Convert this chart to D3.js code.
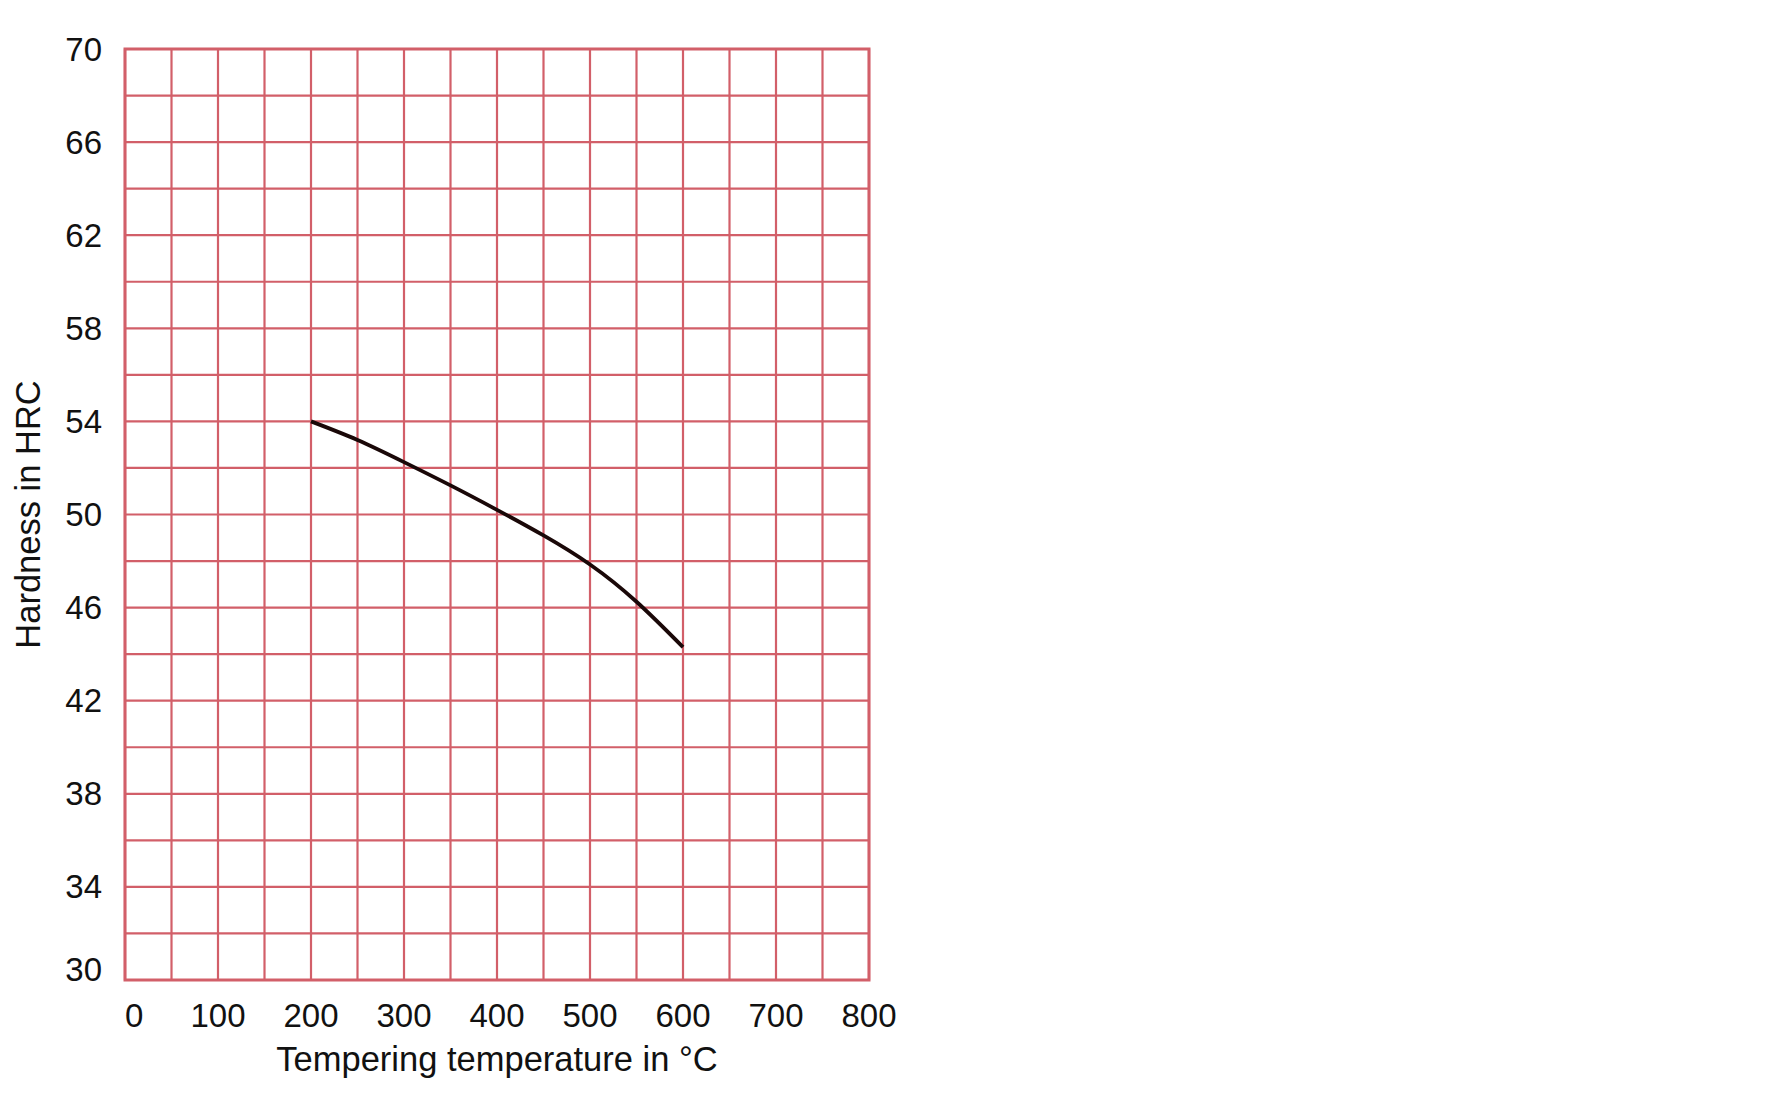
<!DOCTYPE html>
<html>
<head>
<meta charset="utf-8">
<script src="https://cdn.jsdelivr.net/npm/d3@7"></script>
<style>
  html, body { margin: 0; padding: 0; background: #fff; }
  svg { display: block; }
  text { font-family: "Liberation Sans", Arial, Helvetica, sans-serif; fill: #111; }
</style>
</head>
<body>
<svg id="chart" width="1771" height="1106"></svg>
<script>
// data
var temperatures = [200, 250, 300, 350, 400, 450, 500, 550, 600];
var hardness = [54, 53.2, 52.25, 51.25, 50.2, 49.1, 47.85, 46.25, 44.3];
var xTicks = [0, 100, 200, 300, 400, 500, 600, 700, 800];
var yTicks = [30, 34, 38, 42, 46, 50, 54, 58, 62, 66, 70];

var gridColor = '#d25f69';

var svg = d3.select('#chart');
var plotLeft = 125, plotRight = 869, plotTop = 49, plotBottom = 980;

var x = d3.scaleLinear().domain([0, 800]).range([plotLeft, plotRight]);
var y = d3.scaleLinear().domain([30, 70]).range([plotBottom, plotTop]);

// grid: every 50 on x, every 2 on y
var grid = svg.append('g');
grid.selectAll('line.v')
    .data(d3.range(0, 801, 50))
    .enter().append('line')
    .attr('class', 'v')
    .attr('x1', function(d) { return x(d); })
    .attr('x2', function(d) { return x(d); })
    .attr('y1', plotTop)
    .attr('y2', plotBottom)
    .attr('stroke', gridColor)
    .attr('stroke-width', 2.2);

grid.selectAll('line.h')
    .data(d3.range(30, 71, 2))
    .enter().append('line')
    .attr('class', 'h')
    .attr('x1', plotLeft)
    .attr('x2', plotRight)
    .attr('y1', function(d) { return y(d); })
    .attr('y2', function(d) { return y(d); })
    .attr('stroke', gridColor)
    .attr('stroke-width', 2.2);

// outer frame
svg.append('rect')
    .attr('x', plotLeft)
    .attr('y', plotTop)
    .attr('width', plotRight - plotLeft)
    .attr('height', plotBottom - plotTop)
    .attr('fill', 'none')
    .attr('stroke', gridColor)
    .attr('stroke-width', 3);

// tick labels (the bottom one sits a little above its line)
svg.append('g').selectAll('text')
    .data(yTicks)
    .enter().append('text')
    .attr('x', 102)
    .attr('y', function(d) { return d === 30 ? y(d) - 11 : y(d); })
    .attr('dy', '0.35em')
    .attr('text-anchor', 'end')
    .attr('font-size', 33)
    .text(function(d) { return d; });

svg.append('g').selectAll('text')
    .data(xTicks)
    .enter().append('text')
    .attr('x', function(d) { return x(d); })
    .attr('y', 1027)
    .attr('text-anchor', function(d) { return d === 0 ? 'start' : 'middle'; })
    .attr('font-size', 33)
    .text(function(d) { return d; });

// axis titles
svg.append('text')
    .attr('x', (plotLeft + plotRight) / 2)
    .attr('y', 1071)
    .attr('text-anchor', 'middle')
    .attr('font-size', 34.5)
    .text('Tempering temperature in °C');

svg.append('text')
    .attr('transform', 'translate(40,' + ((plotTop + plotBottom) / 2) + ') rotate(-90)')
    .attr('text-anchor', 'middle')
    .attr('font-size', 34.5)
    .text('Hardness in HRC');

// the curve
var line = d3.line()
    .x(function(d, i) { return x(temperatures[i]); })
    .y(function(d) { return y(d); })
    .curve(d3.curveNatural);

svg.append('path')
    .datum(hardness)
    .attr('d', line)
    .attr('fill', 'none')
    .attr('stroke', '#1a0808')
    .attr('stroke-width', 3.8);
</script>
</body>
</html>
